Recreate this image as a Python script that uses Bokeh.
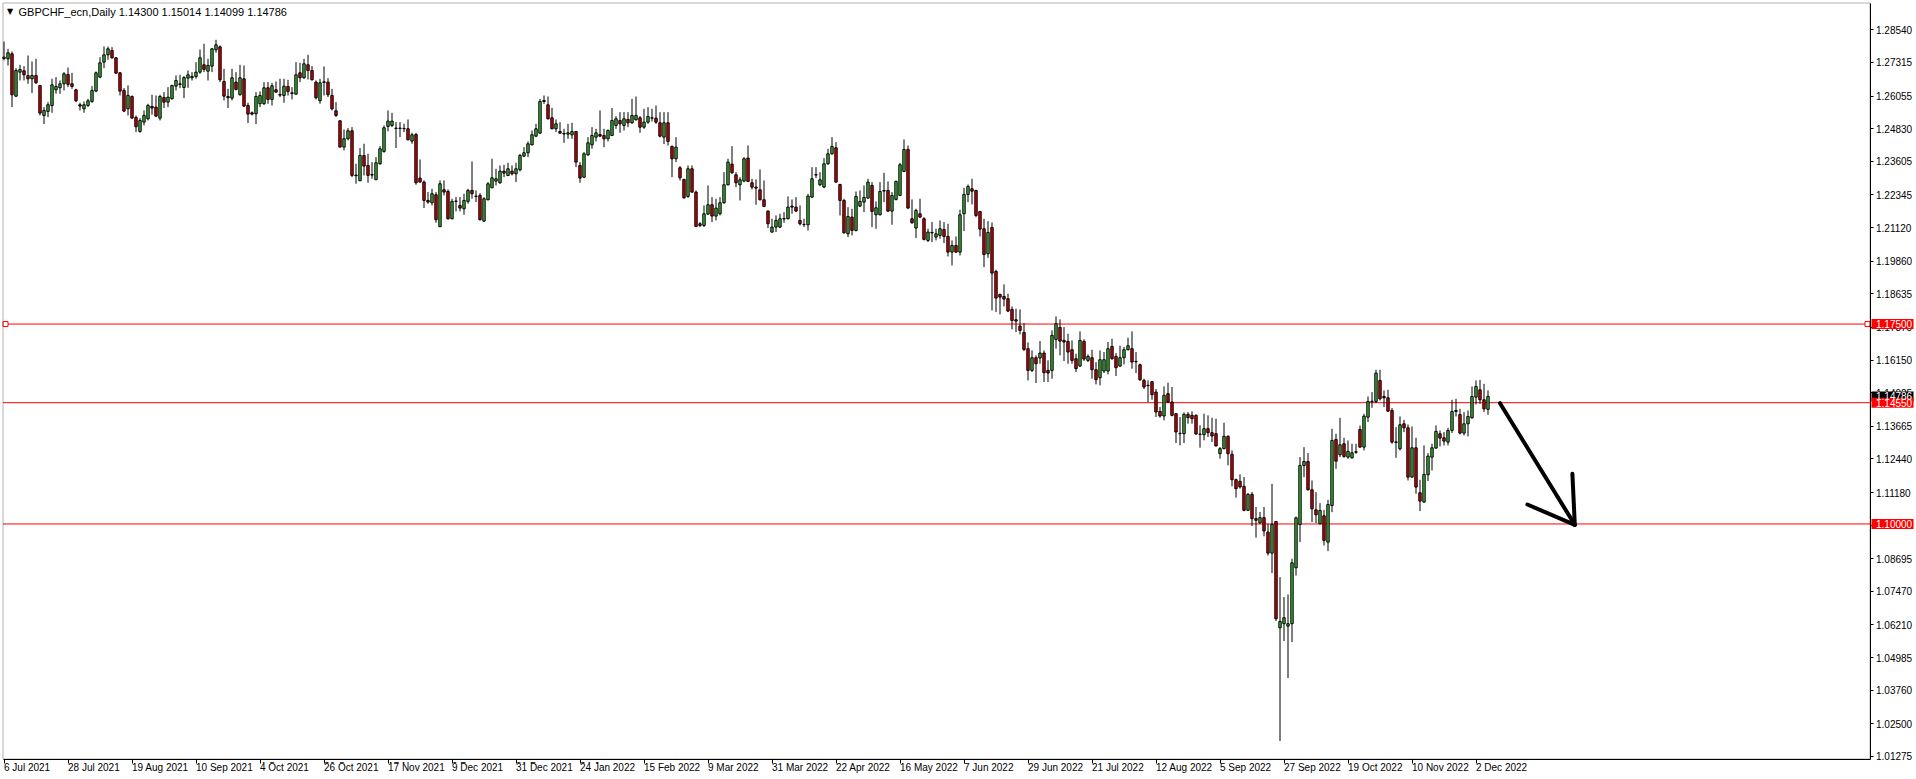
from bokeh.plotting import figure
from bokeh.models import Range1d, FixedTicker, PrintfTickFormatter, Label, ColumnDataSource, BoxAnnotation
from bokeh.core.properties import value
from bokeh.embed import file_html
from bokeh.resources import INLINE

# ---------------- data (GBPCHF_ecn, Daily) ----------------
opens = [
1.27465,1.27452,1.27640,1.26052,1.26952,1.27002,1.26827,1.26702,1.26827,1.26452,
1.25327,1.25477,1.25702,1.26290,1.26365,1.26515,1.26865,1.26515,1.26290,1.25727,
1.25577,1.25702,1.25852,1.26240,1.26765,1.27327,1.27602,1.27765,1.27490,1.26927,
1.26265,1.25577,1.26040,1.25252,1.24727,1.25077,1.25202,1.25665,1.25640,1.25227,
1.26002,1.25827,1.25952,1.26427,1.26490,1.26377,1.26727,1.26740,1.26790,1.26952,
1.27227,1.26990,1.27177,1.27790,1.27902,1.26602,1.26040,1.25977,1.26577,1.26102,
1.26702,1.25702,1.25427,1.25390,1.25765,1.25765,1.26365,1.25927,1.26290,1.26115,
1.26077,1.26415,1.26177,1.26127,1.26927,1.26740,1.27227,1.27015,1.26577,1.25877,
1.26590,1.26577,1.26077,1.25502,1.25127,1.24140,1.24452,1.24752,1.23090,1.22877,
1.23827,1.23452,1.23090,1.22915,1.23515,1.23977,1.24915,1.24952,1.24852,1.24840,
1.24840,1.24827,1.24365,1.24615,1.22977,1.22827,1.22140,1.22052,1.22352,1.21152,
1.22540,1.22477,1.21452,1.22102,1.21952,1.21827,1.22102,1.22515,1.22300,1.22326,
1.21363,1.22163,1.22613,1.22863,1.22801,1.23238,1.23076,1.23238,1.23138,1.23288,
1.23801,1.23926,1.24226,1.24551,1.24663,1.25888,1.25726,1.25238,1.24826,1.24726,
1.24650,1.24626,1.24601,1.24726,1.23451,1.23013,1.23851,1.24226,1.24513,1.24613,
1.24576,1.24451,1.24576,1.24951,1.25138,1.24951,1.25176,1.25051,1.25163,1.25238,
1.24888,1.25076,1.25226,1.25226,1.25051,1.24513,1.25051,1.24163,1.23701,1.23363,
1.22926,1.22288,1.23326,1.22451,1.21263,1.21201,1.21626,1.21976,1.21551,1.21638,
1.22051,1.22726,1.23501,1.23101,1.22726,1.22863,1.23726,1.22801,1.22638,1.22538,
1.22163,1.21738,1.20951,1.21138,1.21138,1.21440,1.21451,1.21926,1.21888,1.21388,
1.21240,1.21226,1.22263,1.23090,1.22726,1.22638,1.23513,1.23888,1.24113,1.22738,
1.22138,1.20888,1.21513,1.21013,1.21926,1.22076,1.22226,1.22701,1.21601,1.21601,
1.22490,1.22513,1.21738,1.22176,1.22326,1.23226,1.24051,1.21451,1.21101,1.21638,
1.21451,1.20638,1.20920,1.20763,1.20826,1.21050,1.20787,1.20200,1.20450,1.20200,
1.21637,1.22362,1.22575,1.22512,1.21725,1.21075,1.20137,1.21125,1.19475,1.18612,
1.18537,1.18450,1.18050,1.17662,1.17425,1.17187,1.16575,1.15762,1.16237,1.16225,
1.16412,1.15762,1.15762,1.16925,1.17375,1.16887,1.16850,1.16537,1.16200,1.15925,
1.16850,1.16137,1.16237,1.15787,1.15487,1.15737,1.15737,1.16662,1.16287,1.15925,
1.16237,1.16537,1.16575,1.16100,1.15975,1.15387,1.15200,1.15337,1.14950,1.14225,
1.14050,1.14887,1.14575,1.14137,1.13400,1.13387,1.14112,1.14075,1.14075,1.13370,
1.13350,1.13575,1.13425,1.13387,1.12637,1.12825,1.13287,1.12612,1.11662,1.11600,
1.11412,1.10512,1.11112,1.10200,1.10037,1.10237,1.09693,1.08906,1.10093,1.06106,
1.06256,1.06168,1.06256,1.08356,1.09981,1.12193,1.12343,1.11281,1.10531,1.10006,
1.10306,1.09318,1.10693,1.13171,1.12596,1.13008,1.12508,1.12483,1.12690,1.13546,
1.12883,1.14008,1.14590,1.14596,1.15383,1.14783,1.14733,1.14258,1.13060,1.12821,
1.13758,1.13608,1.11758,1.12858,1.11171,1.10821,1.11846,1.12508,1.12846,1.13383,
1.13233,1.13071,1.13508,1.14221,1.14108,1.13408,1.13758,1.13983,1.14758,1.15033,
1.14658,1.14300]

highs = [
1.28102,1.27827,1.27727,1.27102,1.27227,1.27177,1.27577,1.27352,1.27452,1.26462,
1.25640,1.25827,1.26702,1.26765,1.26640,1.26952,1.27127,1.26927,1.26327,1.25802,
1.25852,1.25952,1.26427,1.26977,1.27515,1.27915,1.27915,1.27890,1.27515,1.26952,
1.26352,1.26452,1.26077,1.25327,1.25227,1.25515,1.25765,1.26102,1.26077,1.26102,
1.26202,1.26390,1.26477,1.26827,1.26852,1.26802,1.27015,1.26952,1.27327,1.27802,
1.28015,1.27452,1.27852,1.28165,1.27952,1.27077,1.26327,1.27077,1.26952,1.27227,
1.27202,1.25802,1.25477,1.26202,1.26227,1.26577,1.26577,1.26552,1.26602,1.26702,
1.26702,1.26665,1.26390,1.27327,1.27302,1.27452,1.27602,1.27177,1.26640,1.26702,
1.27165,1.26727,1.26327,1.25827,1.25140,1.24802,1.24852,1.24890,1.23515,1.24102,
1.24265,1.23890,1.23577,1.23765,1.24177,1.24952,1.25515,1.25427,1.25077,1.25077,
1.25015,1.25177,1.24677,1.24677,1.23677,1.22890,1.22452,1.22577,1.22452,1.22890,
1.22890,1.22552,1.22202,1.22265,1.22265,1.22390,1.22577,1.23602,1.22515,1.22413,
1.22263,1.22826,1.23701,1.23326,1.23451,1.23476,1.23551,1.23451,1.23551,1.23888,
1.24138,1.24351,1.24763,1.25013,1.25951,1.26076,1.26038,1.25613,1.25176,1.25076,
1.24826,1.25013,1.25051,1.24740,1.23576,1.23951,1.24513,1.24888,1.24826,1.25513,
1.24826,1.24801,1.25613,1.25301,1.25451,1.25451,1.25451,1.25951,1.26038,1.25301,
1.25576,1.25638,1.25576,1.25701,1.25451,1.25451,1.25451,1.24201,1.24513,1.23426,
1.22951,1.23451,1.23451,1.22513,1.21326,1.21951,1.22701,1.22263,1.22201,1.22263,
1.23201,1.23701,1.24176,1.23201,1.23013,1.23763,1.24201,1.22951,1.22926,1.23301,
1.22888,1.21763,1.21451,1.21576,1.21638,1.21701,1.22288,1.22176,1.22263,1.21951,
1.21451,1.22388,1.23388,1.23388,1.23201,1.23726,1.24076,1.24513,1.24326,1.22763,
1.22201,1.21888,1.21826,1.22476,1.22513,1.22701,1.22951,1.22826,1.22101,1.22826,
1.23176,1.22851,1.22451,1.22888,1.23551,1.24426,1.24201,1.22176,1.21826,1.22201,
1.21513,1.21076,1.21326,1.21076,1.21388,1.21325,1.21262,1.20637,1.20787,1.21787,
1.22612,1.22737,1.22950,1.22537,1.21740,1.21450,1.21362,1.21312,1.19537,1.18637,
1.18987,1.18637,1.18162,1.18075,1.18050,1.17537,1.16812,1.16512,1.16325,1.16862,
1.16512,1.16137,1.17262,1.17787,1.17675,1.17387,1.17137,1.16887,1.16387,1.17225,
1.16925,1.16362,1.16537,1.16075,1.16512,1.16450,1.16825,1.16950,1.16412,1.16687,
1.16637,1.16987,1.17225,1.16450,1.16012,1.15450,1.15387,1.15362,1.15062,1.14387,
1.15162,1.15300,1.15137,1.14162,1.14012,1.14187,1.14200,1.14225,1.14112,1.13700,
1.14137,1.14075,1.13987,1.13950,1.12887,1.13800,1.13325,1.12762,1.11700,1.11862,
1.11762,1.11162,1.11200,1.10637,1.10450,1.10637,1.10006,1.11506,1.10106,1.08006,
1.07256,1.07356,1.08693,1.10281,1.12506,1.12883,1.12658,1.11631,1.11193,1.10781,
1.10531,1.10906,1.13571,1.13383,1.13983,1.13233,1.13133,1.13008,1.13008,1.13696,
1.14133,1.14783,1.14946,1.15783,1.15783,1.15008,1.15033,1.14346,1.13633,1.14033,
1.13908,1.13733,1.13658,1.13233,1.11658,1.12946,1.12658,1.13008,1.13696,1.13508,
1.13446,1.13608,1.14658,1.14696,1.14321,1.14196,1.14258,1.15158,1.15383,1.15408,
1.15258,1.15014]

lows = [
1.27390,1.27202,1.25640,1.26015,1.26640,1.26640,1.26515,1.26165,1.26515,1.25327,
1.25002,1.25265,1.25427,1.26140,1.26140,1.26265,1.26390,1.26327,1.25827,1.25515,
1.25427,1.25640,1.25802,1.26202,1.26727,1.27102,1.27415,1.27452,1.26890,1.26077,
1.25452,1.25327,1.25202,1.24702,1.24677,1.24952,1.25140,1.25352,1.25265,1.25140,
1.25602,1.25640,1.25927,1.26265,1.26352,1.25977,1.26365,1.26640,1.26702,1.26890,
1.26952,1.26640,1.26952,1.27677,1.26577,1.25890,1.25602,1.25890,1.26265,1.26077,
1.25640,1.25040,1.25327,1.25002,1.25640,1.25727,1.25765,1.25702,1.26190,1.26015,
1.25802,1.26077,1.25927,1.26102,1.26577,1.26702,1.26677,1.26640,1.25927,1.25765,
1.26077,1.26015,1.25515,1.25265,1.24127,1.24015,1.24390,1.23015,1.22765,1.22865,
1.23077,1.22802,1.22952,1.22902,1.23477,1.23927,1.24727,1.24890,1.24102,1.24515,
1.24702,1.24390,1.24265,1.22727,1.22815,1.21852,1.22015,1.21952,1.21302,1.21140,
1.22327,1.21415,1.21427,1.21727,1.21727,1.21602,1.22015,1.22202,1.22077,1.21388,
1.21326,1.22138,1.22601,1.22701,1.22763,1.23013,1.23051,1.23076,1.22826,1.23226,
1.23763,1.23763,1.24201,1.24513,1.24638,1.25763,1.25176,1.24813,1.24701,1.24638,
1.24301,1.24451,1.24451,1.23388,1.22801,1.22976,1.23801,1.24076,1.24351,1.24513,
1.24138,1.24351,1.24551,1.24826,1.24676,1.24763,1.24888,1.25013,1.25138,1.24676,
1.24826,1.25013,1.25101,1.25013,1.24501,1.24251,1.24201,1.23013,1.23576,1.22888,
1.22201,1.22238,1.22426,1.21138,1.21138,1.21138,1.21601,1.21326,1.21388,1.21576,
1.22013,1.22701,1.23138,1.22638,1.22138,1.22826,1.22826,1.22551,1.21976,1.22138,
1.21888,1.21101,1.20926,1.20951,1.21101,1.21301,1.21426,1.21638,1.21701,1.21201,
1.21138,1.21013,1.22226,1.22976,1.22676,1.22601,1.23476,1.23851,1.22801,1.21576,
1.20888,1.20763,1.20826,1.20976,1.21888,1.21701,1.22201,1.21138,1.21076,1.21576,
1.22076,1.21701,1.21226,1.22138,1.22301,1.23201,1.21826,1.21263,1.20726,1.21476,
1.20638,1.20576,1.20576,1.20638,1.20701,1.20537,1.20037,1.19700,1.20162,1.20075,
1.20987,1.22075,1.21987,1.21512,1.20787,1.19637,1.19987,1.18012,1.17950,1.17862,
1.18162,1.17950,1.17300,1.17200,1.17112,1.16487,1.15387,1.15700,1.15287,1.16012,
1.15325,1.15325,1.15450,1.16575,1.16325,1.16112,1.16012,1.16012,1.15700,1.15887,
1.16112,1.16075,1.15450,1.15237,1.15200,1.15662,1.15612,1.16162,1.15550,1.15887,
1.15987,1.16512,1.15825,1.15662,1.15362,1.15062,1.14575,1.14662,1.14012,1.13987,
1.13887,1.14537,1.14037,1.13037,1.12950,1.13037,1.13762,1.13762,1.13350,1.12862,
1.13137,1.13262,1.13075,1.12912,1.12450,1.12800,1.12200,1.11412,1.10987,1.11325,
1.10475,1.10487,1.09925,1.09487,1.10012,1.09537,1.08818,1.08156,1.06356,1.01856,
1.05606,1.04218,1.05568,1.08068,1.09318,1.11756,1.11256,1.10068,1.10031,1.09990,
1.09193,1.08981,1.10443,1.12068,1.12508,1.12483,1.12446,1.12446,1.12633,1.12858,
1.12758,1.13821,1.14358,1.14533,1.14633,1.14383,1.14196,1.13008,1.12483,1.12758,
1.13446,1.11633,1.11733,1.11133,1.10483,1.10796,1.11608,1.12008,1.12821,1.12908,
1.12946,1.12946,1.13408,1.14033,1.13358,1.13321,1.13283,1.13946,1.14483,1.14508,
1.14196,1.14099]

closes = [
1.27515,1.27677,1.26102,1.27015,1.27052,1.26852,1.26702,1.26827,1.26552,1.25415,
1.25515,1.25727,1.26477,1.26415,1.26515,1.26890,1.26490,1.26415,1.25877,1.25677,
1.25727,1.25877,1.26265,1.26927,1.27302,1.27602,1.27827,1.27490,1.26915,1.26240,
1.25490,1.26077,1.25227,1.24902,1.25140,1.25327,1.25702,1.25602,1.25302,1.26040,
1.25827,1.26015,1.26452,1.26640,1.26515,1.26752,1.26852,1.26790,1.26952,1.27490,
1.27052,1.27202,1.27827,1.27977,1.26665,1.26052,1.25990,1.26740,1.26302,1.26740,
1.25677,1.25377,1.25377,1.26040,1.26077,1.26365,1.25927,1.26440,1.26202,1.26090,
1.26427,1.26227,1.26152,1.26852,1.26740,1.27265,1.27015,1.26665,1.25990,1.26552,
1.26565,1.26102,1.25577,1.25327,1.24140,1.24452,1.24752,1.23077,1.23065,1.23827,
1.23427,1.23077,1.23110,1.23552,1.24077,1.24865,1.25115,1.25115,1.24840,1.24852,
1.24827,1.24415,1.24602,1.22802,1.22827,1.22140,1.22077,1.22390,1.21415,1.22765,
1.22452,1.21452,1.22102,1.22115,1.21852,1.22140,1.22515,1.22390,1.22290,1.21413,
1.22201,1.22763,1.22988,1.22951,1.23238,1.23163,1.23326,1.23138,1.23326,1.23826,
1.23926,1.24263,1.24601,1.24826,1.25851,1.25851,1.25201,1.24826,1.25013,1.24663,
1.24630,1.24676,1.24726,1.23576,1.22976,1.23888,1.24301,1.24576,1.24676,1.24551,
1.24451,1.24763,1.25138,1.25201,1.25013,1.25201,1.25051,1.25326,1.25326,1.24888,
1.25076,1.25288,1.25238,1.25076,1.24551,1.25051,1.24351,1.23701,1.24138,1.22988,
1.22238,1.23326,1.22451,1.21163,1.21201,1.21638,1.21976,1.21551,1.21851,1.22051,
1.22726,1.23576,1.23176,1.22801,1.22913,1.23701,1.22851,1.22638,1.22601,1.22163,
1.21913,1.21263,1.21138,1.21388,1.21451,1.21460,1.21888,1.21888,1.21738,1.21263,
1.21230,1.22301,1.22951,1.23110,1.22913,1.23513,1.23888,1.24163,1.22826,1.22138,
1.20926,1.21538,1.21013,1.22288,1.22101,1.22251,1.22826,1.21726,1.21863,1.22476,
1.22510,1.21738,1.22326,1.22851,1.23476,1.24051,1.21851,1.21301,1.21763,1.21513,
1.20676,1.20951,1.20940,1.20888,1.21076,1.20787,1.20200,1.20450,1.20200,1.21600,
1.22362,1.22662,1.22487,1.21575,1.21062,1.20112,1.20937,1.19412,1.18475,1.18512,
1.18437,1.17987,1.17637,1.17612,1.17262,1.16550,1.15762,1.16237,1.16012,1.16412,
1.15675,1.15662,1.17075,1.17512,1.16862,1.16825,1.16450,1.16137,1.15825,1.16887,
1.16187,1.16287,1.15787,1.15412,1.16162,1.16162,1.16575,1.16200,1.15862,1.16237,
1.16537,1.16687,1.16075,1.16087,1.15412,1.15137,1.15187,1.14850,1.14200,1.14050,
1.14825,1.14575,1.14075,1.13450,1.13387,1.14112,1.13987,1.13950,1.13375,1.13360,
1.13575,1.13425,1.13300,1.12925,1.12825,1.13287,1.12637,1.11662,1.11325,1.11387,
1.10512,1.11112,1.10200,1.10137,1.10237,1.09737,1.08906,1.09981,1.06443,1.06343,
1.06481,1.06256,1.08543,1.10231,1.12193,1.12343,1.11281,1.10568,1.10343,1.10506,
1.09381,1.10731,1.13133,1.12356,1.12971,1.12533,1.12721,1.12671,1.12710,1.12883,
1.14046,1.14596,1.14605,1.15658,1.14696,1.14733,1.14233,1.13071,1.13080,1.13721,
1.13608,1.11758,1.12858,1.11383,1.10858,1.11858,1.12546,1.12858,1.13471,1.13221,
1.13108,1.13508,1.14221,1.14258,1.13408,1.13758,1.14033,1.14783,1.15158,1.14658,
1.14321,1.14786]

date_labels = ["6 Jul 2021", "28 Jul 2021", "19 Aug 2021", "10 Sep 2021", "4 Oct 2021",
               "26 Oct 2021", "17 Nov 2021", "9 Dec 2021", "31 Dec 2021", "24 Jan 2022",
               "15 Feb 2022", "9 Mar 2022", "31 Mar 2022", "22 Apr 2022", "16 May 2022",
               "7 Jun 2022", "29 Jun 2022", "21 Jul 2022", "12 Aug 2022", "5 Sep 2022",
               "27 Sep 2022", "19 Oct 2022", "10 Nov 2022", "2 Dec 2022"]
bars_per_label = 16

price_ticks = [1.28540, 1.27315, 1.26055, 1.24830, 1.23605, 1.22345, 1.21120, 1.19860,
               1.18635, 1.17375, 1.16150, 1.14925, 1.13665, 1.12440, 1.11180, 1.09955,
               1.08695, 1.07470, 1.06210, 1.04985, 1.03760, 1.02500, 1.01275]

levels = [1.17500, 1.14550, 1.10000]
last_price = 1.14786
title_text = "GBPCHF_ecn,Daily  1.14300 1.15014 1.14099 1.14786"

# hand-drawn arrow (bar index, price)
arrow_x0 = [374.0, 380.85, 392.1]
arrow_y0 = [1.14531, 1.10730, 1.11882]
arrow_x1 = [392.7, 392.7, 392.7]
arrow_y1 = [1.09968, 1.09968, 1.09968]

# ---------------- layout (pixels of the 1916x779 window) ----------------
FW, FH = 1914, 778            # frame covers the whole canvas; axes sit at fixed locations
PX_PER_BAR, FIRST_BAR_PX = 4.0, 3.5
PRICE_TOP, PRICE_PER_PX = 1.29640, 0.0003752

def bx(px):
    return (px - FIRST_BAR_PX) / PX_PER_BAR

def py(px):
    return PRICE_TOP - PRICE_PER_PX * px

X_L, X_R = bx(2.5), bx(1869.5)      # chart window (left / right border)
Y_T, Y_B = py(2.5), py(758.5)       # chart window (top / bottom border)

BULL, BEAR, LEVEL = "#3cb83c", "#e00000", "#ff0000"
FONT = "Liberation Sans"

n = len(closes)
src = ColumnDataSource(dict(
    x=list(range(n)), high=highs, low=lows,
    top=[max(o, c) for o, c in zip(opens, closes)],
    bottom=[min(o, c) for o, c in zip(opens, closes)],
    color=[BULL if c >= o else BEAR for o, c in zip(opens, closes)],
))

p = figure(frame_width=FW, frame_height=FH,
           x_range=Range1d(bx(0), bx(FW)), y_range=Range1d(py(FH), py(0)),
           output_backend="svg", toolbar_location=None, y_axis_location="right",
           min_border_left=0, min_border_top=0, min_border_right=0, min_border_bottom=0,
           background_fill_color="white", border_fill_color="white")
p.xgrid.visible = False
p.ygrid.visible = False
p.outline_line_color = None

# chart window border
p.add_layout(BoxAnnotation(left=X_L, right=X_R, top=Y_T, bottom=Y_B,
                           fill_alpha=0, line_color="black", line_width=1))

# level lines
p.segment(x0=[X_L] * len(levels), y0=levels, x1=[X_R] * len(levels), y1=levels,
          line_color=LEVEL, line_width=1)

# candles
p.segment(x0="x", y0="high", x1="x", y1="low", source=src, line_color="black", line_width=1)
p.vbar(x="x", top="top", bottom="bottom", width=0.6, source=src,
       fill_color="color", line_color="black", line_width=1)

# small anchor squares of the 1.175 line
p.scatter(x=[bx(5), bx(1867)], y=[levels[0], levels[0]], marker="square", size=5,
          fill_color="white", line_color=LEVEL, line_width=1)

# arrow
p.segment(x0=arrow_x0, y0=arrow_y0, x1=arrow_x1, y1=arrow_y1,
          line_color="black", line_width=4, line_cap="round")

# price scale (right)
ya = p.yaxis[0]
ya.fixed_location = X_R
ya.bounds = (Y_B, Y_T)
ya.ticker = FixedTicker(ticks=price_ticks, minor_ticks=[])
ya.formatter = PrintfTickFormatter(format="%.5f")
ya.major_label_text_font = FONT
ya.major_label_text_font_size = "10px"
ya.major_label_text_color = "black"
ya.major_tick_in = 0
ya.major_tick_out = 3
ya.minor_tick_line_color = None
ya.major_label_standoff = 3
ya.axis_line_color = "black"

# time scale (bottom)
xa = p.xaxis[0]
tick_pos = [i * bars_per_label for i in range(len(date_labels))]
xa.fixed_location = Y_B
xa.bounds = (X_L, X_R)
xa.ticker = FixedTicker(ticks=tick_pos, minor_ticks=[])
xa.major_label_overrides = {t: lab for t, lab in zip(tick_pos, date_labels)}
xa.major_label_orientation = -1e-6     # numeric orientation -> labels start at the tick
xa.major_label_text_font = FONT
xa.major_label_text_font_size = "10px"
xa.major_label_text_color = "black"
xa.major_tick_in = 0
xa.major_tick_out = 4
xa.minor_tick_line_color = None
xa.major_label_standoff = 4
xa.axis_line_color = "black"

# coloured price tags on the scale
box_x = bx(1892)
tag_prices = [last_price] + levels
tag_colors = ["black"] + [LEVEL] * len(levels)
p.rect(x=[box_x] * len(tag_prices), y=tag_prices, width=42, height=10,
       width_units="screen", height_units="screen",
       fill_color=tag_colors, line_color=None, level="overlay")
p.text(x=[X_R] * len(tag_prices), y=tag_prices, text=[f"{v:.5f}" for v in tag_prices],
       x_offset=6, text_align="left", text_baseline="middle", text_color="white",
       text_font=value(FONT), text_font_size=value("10px"), level="overlay")

# title
p.add_layout(Label(x=6.5, y=FH - 11, x_units="screen", y_units="screen", text="\u25bc",
                   text_font="DejaVu Sans", text_font_size="8px", text_color="black",
                   text_baseline="middle"))
p.add_layout(Label(x=18, y=FH - 11, x_units="screen", y_units="screen", text=title_text,
                   text_font=FONT, text_font_size="11px", text_color="black",
                   text_baseline="middle"))

open("out.html", "w").write(file_html(p, INLINE))
